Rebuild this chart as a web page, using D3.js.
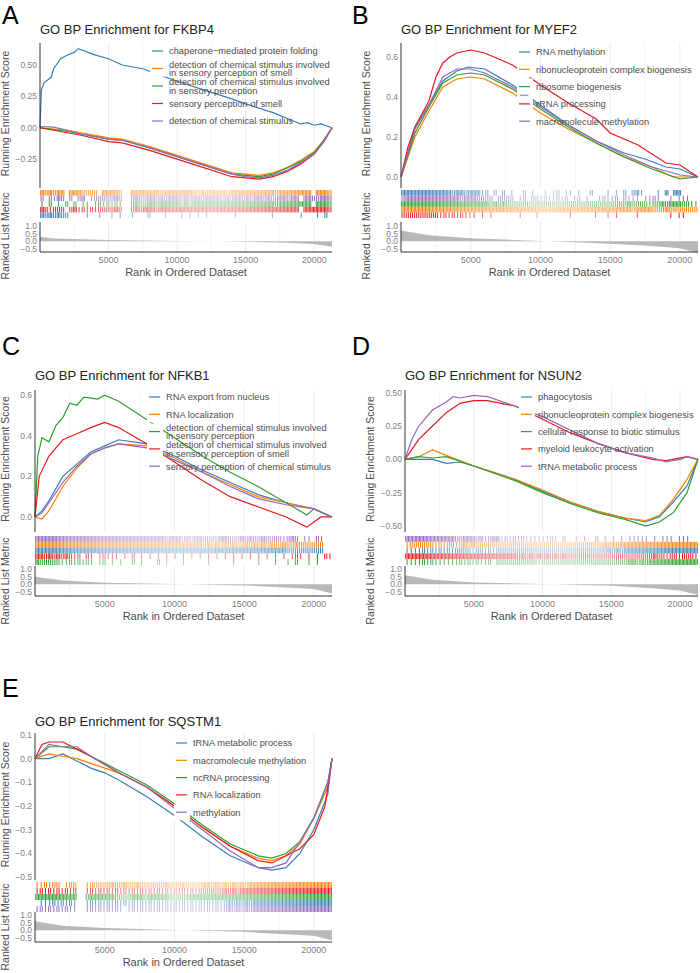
<!DOCTYPE html>
<html><head><meta charset="utf-8">
<script src="https://cdn.jsdelivr.net/npm/d3@7"></script>
<style>body{margin:0;background:#fff}svg{font-family:"Liberation Sans",Arial,sans-serif}</style>
</head><body><svg id="c" width="700" height="973"></svg>
<script>
// ---------- DATA ----------
const colors = {blue:"#377EB8", orange:"#FF7F00", green:"#2CA02C", red:"#E41A1C", purple:"#9467BD"};
const N = 21300;
const titles = ["GO BP Enrichment for FKBP4","GO BP Enrichment for MYEF2","GO BP Enrichment for NFKB1","GO BP Enrichment for NSUN2","GO BP Enrichment for SQSTM1"];
const termsA = ["chaperone\u2212mediated protein folding","detection of chemical stimulus involved\nin sensory perception of smell","detection of chemical stimulus involved\nin sensory perception","sensory perception of smell","detection of chemical stimulus"];
const termsB = ["RNA methylation","ribonucleoprotein complex biogenesis","ribosome biogenesis","rRNA processing","macromolecule methylation"];
const termsC = ["RNA export from nucleus","RNA localization","detection of chemical stimulus involved\nin sensory perception","detection of chemical stimulus involved\nin sensory perception of smell","sensory perception of chemical stimulus"];
const termsD = ["phagocytosis","ribonucleoprotein complex biogenesis","cellular response to biotic stimulus","myeloid leukocyte activation","tRNA metabolic process"];
const termsE = ["tRNA metabolic process","macromolecule methylation","ncRNA processing","RNA localization","methylation"];
const seriesColors = ["blue","orange","green","red","purple"];
// running ES curves: [rank (thousands), score]
const esA = [
 [[0,0],[0.1,0.3],[0.3,0.36],[0.8,0.4],[1,0.47],[1.5,0.55],[2,0.58],[2.5,0.6],[2.8,0.63],[4,0.58],[5,0.55],[6,0.5],[7.5,0.47],[10,0.37],[12,0.3],[14,0.23],[15,0.19],[17,0.12],[19,0.03],[19.5,0.04],[20,0.02],[20.5,0.03],[21.3,0]],
 [[0,0],[2,-0.02],[3,-0.04],[5,-0.08],[6,-0.09],[8,-0.15],[10,-0.22],[12,-0.29],[14,-0.36],[15,-0.37],[16,-0.38],[17,-0.36],[18,-0.32],[19,-0.26],[20,-0.19],[20.7,-0.1],[21.3,0]],
 [[0,0],[2,-0.03],[3,-0.05],[5,-0.09],[6,-0.1],[8,-0.16],[10,-0.23],[12,-0.3],[14,-0.37],[15,-0.38],[16,-0.39],[17,-0.37],[18,-0.32],[19,-0.27],[20,-0.2],[20.7,-0.1],[21.3,0]],
 [[0,0],[2,-0.04],[3,-0.06],[5,-0.11],[6,-0.12],[8,-0.18],[10,-0.25],[12,-0.32],[14,-0.39],[15,-0.4],[16,-0.41],[17,-0.39],[18,-0.35],[19,-0.29],[20,-0.21],[20.7,-0.11],[21.3,0]],
 [[0,0.01],[1,0.005],[2,-0.02],[3,-0.05],[5,-0.09],[6,-0.1],[8,-0.16],[10,-0.23],[12,-0.3],[14,-0.37],[15,-0.39],[16,-0.4],[17,-0.38],[18,-0.34],[19,-0.28],[20,-0.21],[20.7,-0.11],[21.3,0]]];
const esB = [
 [[0,0],[1,0.25],[2,0.36],[3,0.48],[4,0.53],[4.8,0.55],[6,0.54],[8,0.46],[10,0.36],[12,0.26],[14,0.18],[16,0.12],[17.5,0.09],[19,0.05],[20,0.04],[21.3,0]],
 [[0,0],[1,0.2],[2,0.33],[3,0.45],[4,0.49],[5,0.5],[6,0.49],[8,0.42],[10,0.32],[12,0.24],[14,0.17],[16,0.1],[18,0.05],[19.5,0],[21.3,0]],
 [[0,0],[1,0.22],[2,0.35],[3,0.47],[4,0.51],[5,0.52],[6,0.51],[8,0.44],[10,0.34],[12,0.25],[14,0.17],[16,0.1],[18,0.04],[20,-0.01],[21.3,0]],
 [[0,0],[0.5,0.15],[1,0.25],[2,0.38],[2.5,0.5],[3,0.57],[3.5,0.6],[4,0.62],[5,0.635],[6,0.62],[8,0.56],[10,0.46],[12,0.37],[14,0.29],[15,0.22],[17,0.16],[19,0.07],[20,0.06],[21.3,0]],
 [[0,0],[1,0.24],[2,0.36],[3,0.5],[4,0.54],[5,0.54],[6,0.52],[8,0.45],[10,0.35],[12,0.26],[14,0.18],[16,0.11],[18,0.05],[20,0.01],[21.3,0]]];
const esC = [
 [[0,0],[0.5,0.03],[1,0.08],[2,0.2],[3,0.26],[4,0.32],[5,0.35],[6,0.38],[8,0.36],[10,0.3],[12,0.23],[14,0.17],[16,0.11],[18,0.07],[20,0.04],[21.3,0]],
 [[0,0],[0.5,-0.01],[1,0.03],[2,0.15],[3,0.24],[4,0.31],[5,0.34],[6,0.36],[8,0.35],[10,0.29],[12,0.22],[14,0.16],[16,0.1],[18,0.07],[20,0.04],[21.3,0]],
 [[0,0],[0.2,0.3],[0.5,0.39],[1,0.37],[1.5,0.45],[2,0.49],[2.5,0.56],[3,0.55],[3.5,0.59],[4.5,0.58],[5,0.6],[6,0.57],[8,0.48],[10,0.39],[12,0.3],[14,0.22],[16,0.15],[18,0.07],[19.5,0.01],[20,0.04],[21.3,0]],
 [[0,0],[0.3,0.2],[1,0.3],[2,0.38],[3,0.41],[4,0.44],[5,0.465],[6,0.44],[8,0.36],[10,0.27],[12,0.18],[14,0.1],[16,0.05],[18,0],[19.5,-0.05],[20.5,0],[21.3,0]],
 [[0,0],[0.5,0.02],[1,0.07],[2,0.17],[3,0.25],[4,0.31],[5,0.34],[6,0.36],[8,0.34],[10,0.28],[12,0.22],[14,0.15],[16,0.09],[18,0.06],[20,0.04],[21.3,0]]];
const esD = [
 [[0,0],[1,0],[2,0],[3,-0.03],[4,-0.02],[5,-0.05],[8,-0.15],[10,-0.24],[12,-0.32],[14,-0.39],[16,-0.44],[17.5,-0.47],[18.5,-0.43],[19.5,-0.32],[20.5,-0.2],[21.3,0]],
 [[0,0],[1,0.02],[2,0.07],[3,0.03],[5,-0.05],[8,-0.15],[10,-0.23],[12,-0.32],[14,-0.39],[16,-0.44],[17.5,-0.46],[18.5,-0.42],[19.5,-0.3],[20.5,-0.15],[21.3,0]],
 [[0,0],[1,0.02],[2,0.01],[3,0.02],[5,-0.05],[8,-0.16],[10,-0.25],[12,-0.33],[14,-0.4],[16,-0.45],[17.5,-0.5],[18.5,-0.47],[19.5,-0.4],[20.5,-0.25],[21.3,0]],
 [[0,0],[1,0.15],[2,0.25],[3,0.35],[4,0.42],[5,0.44],[6,0.44],[8,0.4],[10,0.3],[12,0.2],[14,0.12],[16,0.05],[18,0],[19,-0.01],[20.5,0.02],[21.3,0]],
 [[0,0],[0.5,0.15],[1,0.25],[2,0.37],[3,0.43],[3.5,0.47],[4,0.46],[5,0.48],[6,0.47],[8,0.4],[10,0.32],[12,0.22],[14,0.12],[16,0.05],[18,0.01],[19,-0.02],[20,0],[20.5,0.02],[21.3,0]]];
const esE = [
 [[0,0],[1,0],[2,0.02],[3,-0.01],[4,-0.04],[5,-0.06],[6,-0.09],[8,-0.16],[10,-0.24],[12,-0.33],[14,-0.41],[16,-0.46],[17,-0.47],[18,-0.46],[19,-0.4],[20,-0.3],[21,-0.15],[21.3,0]],
 [[0,0],[1,0.02],[2,0.01],[3,0],[4,-0.02],[5,-0.04],[6,-0.06],[8,-0.12],[10,-0.2],[12,-0.29],[14,-0.37],[16,-0.42],[17,-0.43],[18,-0.41],[19,-0.36],[20,-0.25],[21,-0.12],[21.3,0]],
 [[0,0],[1,0.05],[2,0.05],[3,0.04],[4,0.01],[5,-0.02],[6,-0.05],[8,-0.11],[10,-0.19],[12,-0.28],[14,-0.36],[16,-0.41],[17,-0.42],[18,-0.4],[19,-0.35],[20,-0.25],[21,-0.1],[21.3,0]],
 [[0,0],[0.5,0.06],[1,0.07],[2,0.07],[3,0.04],[4,0.01],[6,-0.06],[8,-0.12],[10,-0.2],[12,-0.29],[14,-0.37],[16,-0.43],[17,-0.44],[18,-0.41],[19,-0.38],[20,-0.32],[20.8,-0.2],[21.3,0]],
 [[0,0],[1,0.06],[2,0.05],[3,0.05],[4,0.01],[6,-0.06],[8,-0.12],[10,-0.21],[12,-0.3],[14,-0.39],[16,-0.46],[17,-0.46],[18,-0.44],[19,-0.35],[20,-0.25],[21,-0.1],[21.3,0]]];
// ranked list metric: [rank (thousands), metric]
const rankA = [[0,0.3],[1,0.18],[5,0.08],[10,0.02],[13,0],[15,-0.03],[18,-0.1],[20,-0.18],[21.3,-0.35]];
const rankB = [[0,0.7],[2,0.4],[5,0.2],[10,0.02],[12,-0.05],[15,-0.15],[18,-0.3],[20,-0.45],[21.3,-0.75]];
const rankC = [[0,0.5],[2,0.25],[5,0.1],[10,0.02],[15,-0.08],[18,-0.2],[20,-0.3],[21.3,-0.6]];
const rankD = [[0,0.6],[2,0.3],[5,0.12],[10,0.02],[15,-0.1],[18,-0.25],[20,-0.4],[21.3,-0.7]];
const rankE = [[0,0.6],[2,0.3],[5,0.15],[10,0.02],[15,-0.1],[18,-0.25],[20,-0.35],[21.3,-0.65]];
// gene hits per 300-rank bin (count 0-3), rows top to bottom: [colour, bins]
const hitsA = [["orange","32323303332222033332003333333233333333232333323333333333323333333303332"],
 ["purple","20213202023012222232002322332323332323323333232332323323223323303322332"],
 ["green", "10201020201101212121002322332333332323333333333333333333323333333303332"],
 ["red",   "32122202312121222232002323332333333333333333333333333333333333303333332"],
 ["blue",  "32323220000100100101001000200010001010101000000100000000100000010001020"]];
const hitsB = [["blue",  "33333333333323323331202020100201001012011010020001010202310001030330000"],
 ["purple","23333333333333233322220222201202212112120120100121120211101121001011100"],
 ["green", "33333333333333333333323232222222222222222222222222222232222122323332211"],
 ["orange","33333333333333333333333333333333333333333333333333333332333322232222222"],
 ["red",   "22222222212121211101010000001000100000001000001001010000100000001011000"]];
const hitsC = [["purple","33333333333333333333333333333332333232332222332223232232222123201102100"],
 ["orange","33333333333333333333333333333333333333332323232322323232322322322222200"],
 ["blue",  "33333333333333333333333333333333333333333333333333333333333322222222200"],
 ["red",   "33232323212021012111010201010101010101010101010101010101010101210101021"],
 ["green", "32222211212121012010100201000201000100000100000100000100010010200101000"]];
const hitsD = [["purple","33333333333322333231233121212111111210200101002010101011111010111011100"],
 ["orange","12222221212212323222222222222222222222222222222232323333333333333333333"],
 ["blue",  "11112121212122221221212222222222222222222222222223232333333333333333333"],
 ["red",   "33333333333333333333333333323232323232322222222222222222222232212212221"],
 ["green", "11112121111112121211202222222222122222222222222222222233232333333333333"]];
const hitsE = [["orange","11212201220012222232232232222223222322223323232323233333333333333333333"],
 ["red",   "12121212120012121212121212121212121212122222232323333333333333333333333"],
 ["green", "33333333330023333332222333233333222233333333333333333333333333333333333"],
 ["blue",  "01112121210012121212121212121212121212121212123232323333333333333333333"],
 ["purple","12121212110012121212101212121212121212121212123232323333333333333333333"]];
const xTickVals = [5000,10000,15000,20000];

// ---------- LAYOUT ----------
const panels = [
 {L:"A",title:titles[0],terms:termsA,es:esA,rank:rankA,hits:hitsA,x0:40,x1:332,esTop:43,esBot:188,esDom:[-0.48,0.675],yt:[-0.25,0,0.25,0.5],fmt:d3.format(".2f"),tTop:190,tBot:218,rTop:222,r1:226,r5:249,aBot:252,letterY:24,titleY:34,lx:153,ly:51,lstep:17.5},
 {L:"B",title:titles[1],terms:termsB,es:esB,rank:rankB,hits:hitsB,x0:401,x1:698,esTop:43,esBot:188,esDom:[-0.055,0.67],yt:[0,0.2,0.4,0.6],fmt:d3.format(".1f"),tTop:190,tBot:218,rTop:222,r1:226,r5:249,aBot:252,letterY:24,titleY:34,lx:520,ly:52,lstep:17.3},
 {L:"C",title:titles[2],terms:termsC,es:esC,rank:rankC,hits:hitsC,x0:35,x1:332,esTop:390,esBot:532,esDom:[-0.074,0.625],yt:[0,0.2,0.4,0.6],fmt:d3.format(".1f"),tTop:536,tBot:565,rTop:566,r1:569,r5:592,aBot:596,letterY:355,titleY:380,lx:150,ly:397,lstep:17.3},
 {L:"D",title:titles[3],terms:termsD,es:esD,rank:rankD,hits:hitsD,x0:405,x1:698,esTop:390,esBot:532,esDom:[-0.545,0.52],yt:[-0.5,-0.25,0,0.25,0.5],fmt:d3.format(".2f"),tTop:536,tBot:565,rTop:566,r1:569,r5:592,aBot:596,letterY:355,titleY:380,lx:522,ly:397,lstep:17.3},
 {L:"E",title:titles[4],terms:termsE,es:esE,rank:rankE,hits:hitsE,x0:35,x1:332,esTop:733,esBot:880,esDom:[-0.512,0.108],yt:[0.1,0,-0.1,-0.2,-0.3,-0.4,-0.5],fmt:d3.format(".1f"),tTop:882,tBot:912,rTop:912,r1:915,r5:938,aBot:942,letterY:697,titleY:726,lx:177,ly:743,lstep:17.3}
];
const svg = d3.select("#c");
const txt = "#4d4d4d", tick="#7f7f7f";

panels.forEach(p=>{
  const g = svg.append("g");
  const x = d3.scaleLinear().domain([0,N]).range([p.x0,p.x1]);
  const y = d3.scaleLinear().domain(p.esDom).range([p.esBot,p.esTop]);
  const yr = d3.scaleLinear().domain([-0.5,1]).range([p.r5,p.r1]);
  const lx = p.L==="A"||p.L==="C"||p.L==="E" ? 2 : 352;
  const tx = Math.max(9, p.x0-31);
  g.append("text").attr("x",lx).attr("y",p.letterY).attr("font-size",25).attr("fill","#000").text(p.L);
  g.append("text").attr("x",p.x0).attr("y",p.titleY).attr("font-size",13).attr("fill","#222").text(p.title);
  const gridVals = d3.range(2500,N,2500);
  [[p.esTop,p.esBot],[p.rTop,p.aBot]].forEach(([a,b])=>{
    g.selectAll(null).data(gridVals).enter().append("line")
      .attr("x1",d=>x(d)).attr("x2",d=>x(d)).attr("y1",a).attr("y2",b)
      .attr("stroke","#ebebeb").attr("stroke-width",d=>d%5000===0?1:0.6);
  });
  const line = d3.line().x(d=>x(d[0]*1000)).y(d=>y(d[1]));
  p.es.forEach((s,i)=>{
    g.append("path").attr("d",line(s)).attr("fill","none").attr("stroke",colors[seriesColors[i]]).attr("stroke-width",1.2);
  });
  g.append("line").attr("x1",p.x0).attr("x2",p.x0).attr("y1",p.esTop).attr("y2",p.esBot).attr("stroke","#333");
  g.selectAll(null).data(p.yt).enter().append("text").attr("x",p.x0-3).attr("y",d=>y(d)+3).attr("text-anchor","end")
    .attr("font-size",8.5).attr("fill",tick).text(d=>p.fmt(d).replace("-","\u2212"));
  g.append("text").attr("transform",`translate(${tx},${(p.esTop+p.esBot)/2-2}) rotate(-90)`).attr("text-anchor","middle")
    .attr("font-size",10.5).attr("fill",txt).text("Running Enrichment Score");
  const rh = (p.tBot-p.tTop)/5;
  const rmetric = d3.scaleLinear().domain(p.rank.map(d=>d[0]*1000)).range(p.rank.map(d=>d[1]));
  const mx = d3.max(p.rank,d=>Math.abs(d[1]));
  p.hits.forEach(([c,bins],ri)=>{
    const pos=[];
    bins.split("").forEach((ch,bi)=>{const n=+ch;for(let k=0;k<n;k++)pos.push(bi*300+(k+0.5)*300/n);});
    g.selectAll(null).data(pos).enter().append("line")
      .attr("x1",d=>x(d)).attr("x2",d=>x(d)).attr("y1",p.tTop+ri*rh).attr("y2",p.tTop+(ri+1)*rh)
      .attr("stroke",colors[c]).attr("stroke-width",1)
      .attr("stroke-opacity",d=>0.35+0.65*Math.min(1,Math.abs(rmetric(d))/mx*1.8));
  });
  const area = d3.area().x(d=>x(d[0]*1000)).y0(yr(0)).y1(d=>yr(d[1]));
  g.append("path").attr("d",area(p.rank)).attr("fill","#b8b8b8");
  g.append("line").attr("x1",p.x0).attr("x2",p.x0).attr("y1",p.rTop).attr("y2",p.aBot).attr("stroke","#333");
  g.append("line").attr("x1",p.x0).attr("x2",p.x1).attr("y1",p.aBot).attr("y2",p.aBot).attr("stroke","#333");
  g.selectAll(null).data([1,0.5,0,-0.5]).enter().append("text").attr("x",p.x0-3).attr("y",d=>yr(d)+3).attr("text-anchor","end")
    .attr("font-size",8.5).attr("fill",tick).text(d=>d3.format(".1f")(d).replace("-","\u2212"));
  g.append("text").attr("transform",`translate(${tx},${(p.tTop+p.aBot)/2+15}) rotate(-90)`).attr("text-anchor","middle")
    .attr("font-size",10.5).attr("fill",txt).text("Ranked List Metric");
  g.selectAll(null).data(xTickVals).enter().append("text").attr("x",d=>x(d)).attr("y",p.aBot+11).attr("text-anchor","middle")
    .attr("font-size",9).attr("fill",tick).text(d=>d);
  g.append("text").attr("x",(p.x0+p.x1)/2).attr("y",p.aBot+24).attr("text-anchor","middle")
    .attr("font-size",11).attr("fill",txt).text("Rank in Ordered Dataset");
  p.terms.forEach((t,i)=>{
    const cy = p.ly + i*p.lstep;
    g.append("rect").attr("x",p.lx-3).attr("y",cy-8).attr("width",16).attr("height",16).attr("fill","#fff");
    g.append("line").attr("x1",p.lx-1).attr("x2",p.lx+10).attr("y1",cy).attr("y2",cy).attr("stroke",colors[seriesColors[i]]).attr("stroke-width",1.2);
    const ls = t.split("\n");
    ls.forEach((s,j)=>{
      g.append("text").attr("x",p.lx+16).attr("y",cy+3.3+(j-(ls.length-1)/2)*8.6).attr("font-size",9.3).attr("fill",txt).text(s);
    });
  });
});
</script></body></html>
